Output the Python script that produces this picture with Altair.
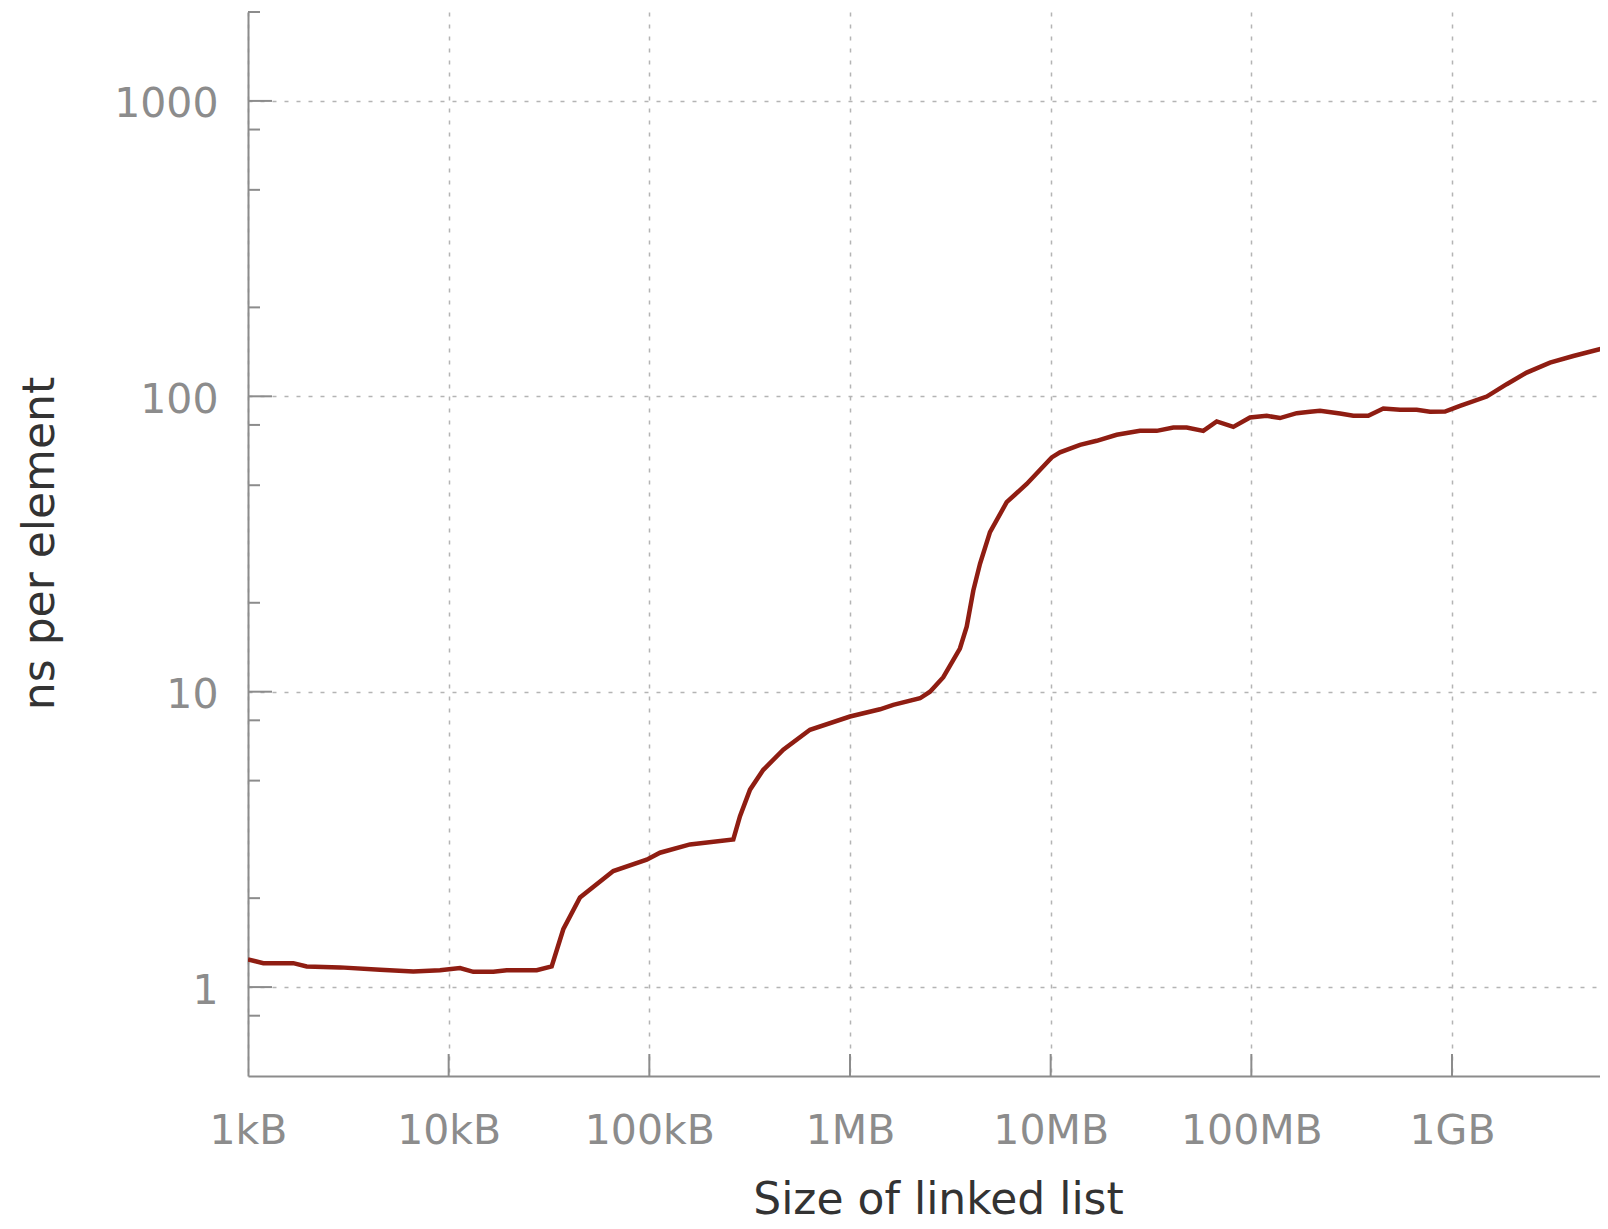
import altair as alt
import pandas as pd

# ---- data (bytes, ns per element) ----
sizes = [1000, 1192, 1682, 1961, 2874, 4548, 6662, 9055, 11390, 13270,
         16690, 19460, 27460, 32610, 37260, 45120, 66140, 97000, 113000, 159400,
         262100, 283000, 317500, 369800, 465200, 631800, 1000000, 1411000, 1643000, 2233000,
         2504000, 2917000, 3529000, 3815000, 4116000, 4444000, 4984000, 6036000, 7595000, 10120000,
         11130000, 14000000, 16960000, 21330000, 27860000, 33770000, 40850000, 47620000, 57620000, 67200000,
         81310000, 98470000, 119300000, 138900000, 168300000, 196000000, 219900000, 276500000, 322300000, 382500000,
         454600000, 550600000, 666800000, 777000000, 922600000, 1096000000, 1489000000, 1873000000, 2356000000, 3078000000,
         4022000000, 5989000000]
ns_per_element = [1.24, 1.205, 1.205, 1.175, 1.166, 1.144, 1.13, 1.14, 1.16, 1.126,
                  1.126, 1.14, 1.14, 1.175, 1.57, 2.01, 2.47, 2.70, 2.85, 3.04,
                  3.16, 3.79, 4.66, 5.44, 6.36, 7.43, 8.24, 8.72, 9.02, 9.5,
                  10.0, 11.2, 14.0, 16.6, 22.0, 27.1, 34.7, 43.8, 50.5, 62.1,
                  64.6, 68.5, 70.7, 74.1, 76.4, 76.4, 78.4, 78.4, 76.4, 82.2,
                  78.8, 84.8, 85.9, 84.4, 87.7, 88.6, 89.3, 87.4, 85.9, 85.9,
                  90.9, 90.0, 90.0, 88.6, 88.8, 92.8, 99.8, 109.9, 120.3, 130,
                  136.9, 146.8]

x_tick_values = [1e3, 1e4, 1e5, 1e6, 1e7, 1e8, 1e9]
x_tick_labels = ["1kB", "10kB", "100kB", "1MB", "10MB", "100MB", "1GB"]
y_major_ticks = [1, 10, 100, 1000]
y_minor_ticks = [0.8, 2, 5, 8, 20, 50, 80, 200, 500, 800, 2000]

W, H = 1352, 1064
FONT = "DejaVu Sans"
AXIS_GREY = "#8c8c8c"
GRID_GREY = "#b4b4b4"

df = pd.DataFrame({"size": sizes, "ns": ns_per_element})
xt = pd.DataFrame({"size": x_tick_values[1:]})
ymaj = pd.DataFrame({"ns": y_major_ticks})
ymin = pd.DataFrame({"ns": y_minor_ticks})

xscale = alt.Scale(type="log", domain=[1000, 5.463e9], nice=False)
yscale = alt.Scale(type="log", domain=[0.5, 2000], nice=False)

# label expression built from the tick arrays
expr = "''"
for v, lab in reversed(list(zip(x_tick_values, x_tick_labels))):
    expr = f"(datum.value < {v * 3.0:g} ? '{lab}' : {expr})"

x_axis = alt.Axis(
    values=x_tick_values, labelExpr=expr, title="Size of linked list",
    grid=True, gridDash=[4, 8], gridColor=GRID_GREY, gridWidth=1.5,
    ticks=False, tickSize=0, labelPadding=35, labelFlush=False, labelOverlap=False,
    labelFont=FONT, labelFontSize=41, labelColor=AXIS_GREY,
    titleFont=FONT, titleFontSize=44, titleFontWeight="normal", titleColor="#333333",
    titleX=690, titleY=137, titleBaseline="alphabetic", titleAlign="center",
    domainColor=AXIS_GREY, domainWidth=2,
)
y_axis = alt.Axis(
    values=y_major_ticks, format="d", title="ns per element",
    grid=True, gridDash=[4, 8], gridColor=GRID_GREY, gridWidth=1.5,
    ticks=False, tickSize=0, labelPadding=30, labelOffset=4, labelOverlap=False,
    labelFont=FONT, labelFontSize=41, labelColor=AXIS_GREY,
    titleFont=FONT, titleFontSize=44, titleFontWeight="normal", titleColor="#333333",
    titleX=-195, titleY=531, titleAngle=270, titleBaseline="alphabetic", titleAlign="center",
    domainColor=AXIS_GREY, domainWidth=2,
)

X = alt.X("size:Q", scale=xscale, axis=x_axis)
Y = alt.Y("ns:Q", scale=yscale, axis=y_axis)

line = alt.Chart(df).mark_line(color="#8f1d12", strokeWidth=4.5, clip=True).encode(x=X, y=Y)

ymaj_ticks = alt.Chart(ymaj).mark_rule(color=AXIS_GREY, strokeWidth=2).encode(
    y=Y, x=alt.value(0), x2=alt.value(24)
)
ymin_ticks = alt.Chart(ymin).mark_rule(color=AXIS_GREY, strokeWidth=2).encode(
    y=Y, x=alt.value(0), x2=alt.value(12)
)
x_ticks = alt.Chart(xt).mark_rule(color=AXIS_GREY, strokeWidth=2).encode(
    x=X, y=alt.value(H), y2=alt.value(H - 22)
)

chart = alt.layer(line, ymaj_ticks, ymin_ticks, x_ticks).properties(
    width=W, height=H,
    autosize=alt.AutoSizeParams(type="none"),
    padding={"left": 240, "top": 4, "right": 0, "bottom": 146},
    background="white",
).configure_view(stroke=None)

chart.save("out.html", embed_options={"renderer": "svg", "actions": False})
